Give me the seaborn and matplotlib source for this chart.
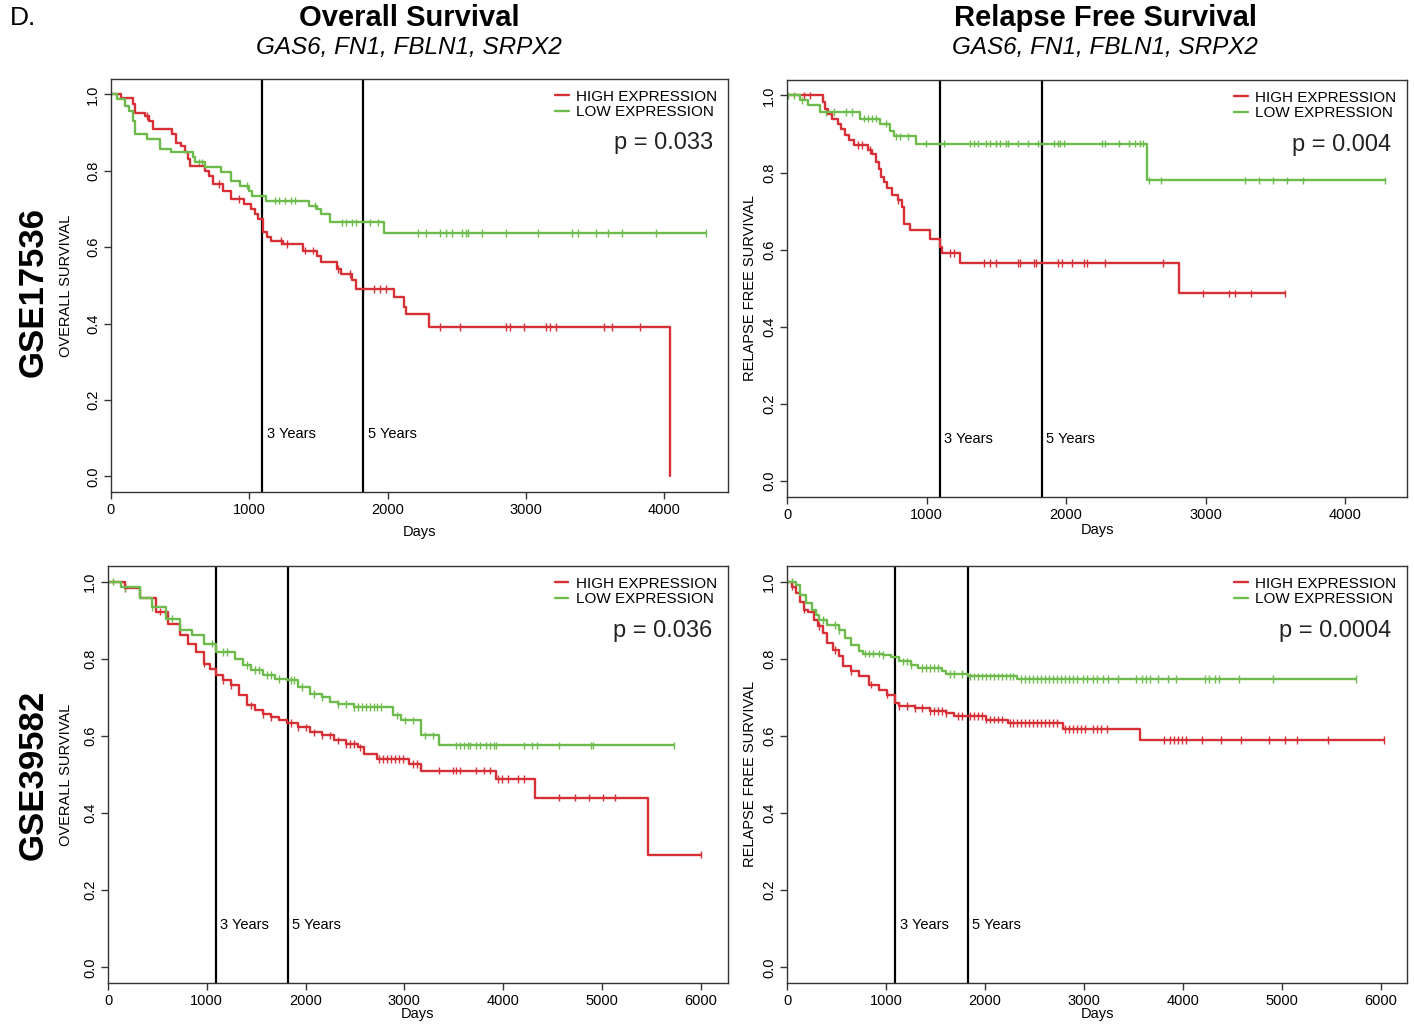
import numpy as np
import pandas as pd
import matplotlib
matplotlib.use('Agg')
import matplotlib.pyplot as plt
from matplotlib.lines import Line2D
import seaborn as sns

sns.set_style('white')
plt.rcParams['font.family'] = ['Liberation Sans', 'DejaVu Sans']
plt.rcParams['text.color'] = 'black'
plt.rcParams['axes.labelcolor'] = 'black'

# ---- GSE17536, overall survival ----
tl_high_t = [0, 72, 159, 173, 245, 274, 303, 439, 467, 505, 534, 554, 571, 678, 707, 736, 808, 866, 958, 1010,
             1039, 1062, 1102, 1125, 1160, 1240, 1385, 1486, 1515, 1630, 1659, 1745, 1774, 2043, 2120, 2135, 2302, 4040]
tl_high_s = [1.0, 0.991, 0.974, 0.952, 0.943, 0.930, 0.909, 0.896, 0.874, 0.865, 0.848, 0.830, 0.813, 0.800, 0.787,
             0.765, 0.748, 0.726, 0.713, 0.700, 0.687, 0.674, 0.639, 0.626, 0.617, 0.609, 0.591, 0.578, 0.561, 0.543,
             0.530, 0.513, 0.491, 0.470, 0.443, 0.426, 0.391, 0.0]
tl_high_c = [260, 779, 923, 1226, 1269, 1399, 1457, 1644, 1731, 1818, 1904, 1947, 1991, 2380, 2524, 2856, 2885,
             2986, 3145, 3173, 3217, 3563, 3621, 3823]
tl_low_t = [0, 43, 101, 130, 159, 173, 260, 352, 433, 592, 606, 678, 793, 866, 929, 995, 1016, 1119, 1428, 1486,
            1515, 1581, 1976, 4299]
tl_low_s = [1.0, 0.987, 0.970, 0.957, 0.930, 0.896, 0.883, 0.857, 0.848, 0.835, 0.822, 0.809, 0.796, 0.774, 0.761,
            0.748, 0.735, 0.722, 0.709, 0.700, 0.687, 0.665, 0.637, 0.637]
tl_low_c = [635, 658, 981, 1183, 1212, 1255, 1298, 1327, 1471, 1673, 1702, 1745, 1774, 1818, 1875, 1933, 2221, 2279,
            2380, 2423, 2467, 2539, 2568, 2582, 2683, 2856, 3087, 3332, 3375, 3505, 3592, 3693, 3938, 4299]

# ---- GSE17536, relapse free survival ----
tr_high_t = [0, 256, 273, 293, 322, 365, 388, 416, 445, 479, 580, 608, 637, 657, 674, 694, 714, 751, 794, 823,
             837, 880, 1023, 1095, 1109, 1238, 2813, 3571]
tr_high_s = [1.0, 0.983, 0.966, 0.953, 0.940, 0.927, 0.914, 0.897, 0.884, 0.871, 0.858, 0.849, 0.828, 0.810, 0.789,
             0.776, 0.759, 0.741, 0.728, 0.711, 0.668, 0.651, 0.629, 0.608, 0.591, 0.566, 0.487, 0.487]
tr_high_c = [122, 165, 508, 537, 594, 794, 1167, 1195, 1410, 1453, 1496, 1653, 1668, 1768, 1782, 1940, 1968, 2040,
             2126, 2154, 2283, 2698, 2985, 3171, 3214, 3328, 3571]
tr_low_t = [0, 93, 150, 236, 522, 666, 737, 766, 923, 2584, 4287]
tr_low_s = [1.0, 0.987, 0.974, 0.957, 0.940, 0.927, 0.909, 0.894, 0.875, 0.780, 0.780]
tr_low_c = [10, 52, 104, 279, 336, 422, 465, 551, 580, 608, 637, 708, 780, 809, 866, 995, 1095, 1124, 1310, 1338,
            1367, 1424, 1453, 1496, 1524, 1567, 1582, 1653, 1725, 1797, 1911, 1940, 1954, 1983, 2255, 2283, 2383,
            2455, 2498, 2527, 2555, 2598, 2684, 3285, 3385, 3486, 3586, 3700, 4287]

# ---- GSE39582, overall survival ----
bl_high_t = [0, 168, 328, 488, 608, 728, 808, 888, 968, 1028, 1096, 1168, 1248, 1328, 1408, 1488, 1568, 1648, 1728,
             1808, 1928, 2048, 2168, 2288, 2408, 2528, 2588, 2728, 3048, 3168, 3928, 4328, 5468, 6008]
bl_high_s = [1.0, 0.983, 0.957, 0.922, 0.891, 0.861, 0.839, 0.818, 0.787, 0.774, 0.757, 0.744, 0.731, 0.705, 0.679,
             0.666, 0.657, 0.648, 0.640, 0.634, 0.622, 0.609, 0.601, 0.588, 0.579, 0.570, 0.553, 0.540, 0.527, 0.510,
             0.488, 0.440, 0.292, 0.292]
bl_high_c = [168, 528, 968, 1168, 1248, 1448, 1568, 1648, 1848, 1928, 2008, 2088, 2168, 2248, 2328, 2408, 2448,
             2488, 2548, 2748, 2788, 2828, 2868, 2908, 2948, 2988, 3088, 3128, 3348, 3488, 3528, 3568, 3728, 3808,
             3868, 3948, 3988, 4048, 4148, 4208, 4568, 4728, 4868, 5008, 5128, 6008]
bl_low_t = [0, 128, 328, 448, 588, 728, 848, 968, 1096, 1288, 1368, 1448, 1568, 1688, 1808, 1928, 2048, 2168, 2248,
            2328, 2488, 2888, 2968, 3168, 3348, 5728]
bl_low_s = [1.0, 0.986, 0.957, 0.934, 0.904, 0.874, 0.861, 0.839, 0.818, 0.800, 0.783, 0.770, 0.757, 0.748, 0.744,
            0.727, 0.709, 0.700, 0.688, 0.683, 0.674, 0.653, 0.640, 0.601, 0.575, 0.575]
bl_low_c = [48, 168, 448, 648, 728, 1048, 1168, 1208, 1408, 1488, 1528, 1608, 1648, 1728, 1848, 1888, 1968, 2088,
            2168, 2328, 2408, 2488, 2528, 2568, 2608, 2648, 2688, 2728, 2768, 2928, 3008, 3088, 3208, 3288, 3528,
            3568, 3608, 3648, 3668, 3728, 3768, 3828, 3868, 3908, 3928, 4208, 4288, 4348, 4568, 4888, 4908, 5728]

# ---- GSE39582, relapse free survival ----
br_high_t = [0, 48, 88, 128, 168, 208, 268, 308, 368, 408, 468, 528, 568, 648, 728, 828, 928, 1008, 1088, 1128,
             1288, 1448, 1608, 1688, 2008, 2228, 2788, 3568, 6028]
br_high_s = [1.0, 0.987, 0.970, 0.948, 0.927, 0.922, 0.901, 0.884, 0.866, 0.841, 0.823, 0.806, 0.780, 0.767, 0.754,
             0.733, 0.720, 0.707, 0.685, 0.678, 0.672, 0.664, 0.659, 0.651, 0.642, 0.634, 0.618, 0.589, 0.589]
br_high_c = [48, 168, 328, 488, 648, 848, 1008, 1128, 1208, 1288, 1368, 1448, 1488, 1528, 1568, 1608, 1728, 1768,
             1848, 1888, 1928, 1968, 2008, 2048, 2088, 2128, 2168, 2248, 2288, 2328, 2368, 2408, 2448, 2488, 2528,
             2568, 2608, 2648, 2688, 2728, 2808, 2848, 2888, 2928, 2968, 3008, 3088, 3128, 3168, 3228, 3808, 3868,
             3908, 3948, 3988, 4028, 4188, 4388, 4588, 4868, 5028, 5148, 5468, 6028]
br_low_t = [0, 88, 128, 188, 248, 288, 328, 408, 528, 588, 648, 728, 768, 968, 1048, 1128, 1248, 1328, 1568, 1608,
            1828, 2328, 5748]
br_low_s = [1.0, 0.991, 0.966, 0.944, 0.927, 0.914, 0.901, 0.888, 0.875, 0.853, 0.836, 0.819, 0.813, 0.810, 0.804,
            0.793, 0.784, 0.776, 0.767, 0.761, 0.754, 0.747, 0.747]
br_low_c = [48, 368, 488, 528, 788, 828, 868, 928, 968, 1168, 1208, 1248, 1368, 1408, 1448, 1488, 1528, 1648, 1688,
            1768, 1848, 1888, 1928, 1968, 2008, 2048, 2088, 2128, 2168, 2208, 2248, 2288, 2368, 2408, 2448, 2488,
            2528, 2568, 2608, 2648, 2688, 2728, 2768, 2808, 2848, 2888, 2928, 2988, 3028, 3088, 3128, 3188, 3248,
            3348, 3528, 3588, 3628, 3668, 3748, 3848, 3928, 4228, 4268, 4328, 4368, 4568, 4908, 5748]

groups = ['HIGH EXPRESSION', 'LOW EXPRESSION']
colors = {'HIGH EXPRESSION': '#d62f36', 'LOW EXPRESSION': '#6cbb4c'}

panels = [
    dict(pos=[0.0785, 0.5212, 0.4364, 0.4018], high=(tl_high_t, tl_high_s, tl_high_c),
         low=(tl_low_t, tl_low_s, tl_low_c), xmax=4460, xticks=range(0, 4001, 1000),
         ylab='OVERALL SURVIVAL', p='p = 0.033', ylab_x=-0.062, xlab_y=-0.08),
    dict(pos=[0.5566, 0.5164, 0.4385, 0.4057], high=(tr_high_t, tr_high_s, tr_high_c),
         low=(tr_low_t, tr_low_s, tr_low_c), xmax=4445, xticks=range(0, 4001, 1000),
         ylab='RELAPSE FREE SURVIVAL', p='p = 0.004', ylab_x=-0.048, xlab_y=-0.063),
    dict(pos=[0.0764, 0.0431, 0.4383, 0.4057], high=(bl_high_t, bl_high_s, bl_high_c),
         low=(bl_low_t, bl_low_s, bl_low_c), xmax=6275, xticks=range(0, 6001, 1000),
         ylab='OVERALL SURVIVAL', p='p = 0.036', ylab_x=-0.056, xlab_y=-0.058),
    dict(pos=[0.5566, 0.0431, 0.4385, 0.4057], high=(br_high_t, br_high_s, br_high_c),
         low=(br_low_t, br_low_s, br_low_c), xmax=6265, xticks=range(0, 6001, 1000),
         ylab='RELAPSE FREE SURVIVAL', p='p = 0.0004', ylab_x=-0.048, xlab_y=-0.058),
]

fig = plt.figure(figsize=(14.14, 10.27), dpi=100)

for pn in panels:
    ax = fig.add_axes(pn['pos'])
    curves = []
    cens = []
    for g, (t, s, c) in zip(groups, [pn['high'], pn['low']]):
        curves.append(pd.DataFrame({'Days': t, 'Survival': s, 'group': g}))
        t_arr = np.array(t)
        s_arr = np.array(s)
        idx = np.searchsorted(t_arr, np.array(c), side='right') - 1
        cens.append(pd.DataFrame({'Days': c, 'Survival': s_arr[idx], 'group': g}))
    df = pd.concat(curves, ignore_index=True)
    dc = pd.concat(cens, ignore_index=True)

    sns.lineplot(data=df, x='Days', y='Survival', hue='group', palette=colors, estimator=None,
                 sort=False, drawstyle='steps-post', linewidth=1.7, legend=False, ax=ax)
    sns.scatterplot(data=dc, x='Days', y='Survival', hue='group', palette=colors, marker='|',
                    s=30, linewidth=1.0, legend=False, ax=ax)

    for v, lab in [(1095, '3 Years'), (1825, '5 Years')]:
        ax.axvline(v, color='black', lw=1.6, zorder=1)
        ax.annotate(lab, xy=(v, 0.11), xytext=(3, 0), textcoords='offset points',
                    ha='left', va='center', fontsize=10.5)

    ax.set_xlim(0, pn['xmax'])
    ax.set_ylim(-0.04, 1.04)
    ax.set_xticks(list(pn['xticks']))
    ax.set_yticks([0.0, 0.2, 0.4, 0.6, 0.8, 1.0])
    ax.set_yticklabels(['0.0', '0.2', '0.4', '0.6', '0.8', '1.0'], rotation=90, va='center')
    ax.tick_params(bottom=True, left=True, direction='out', length=5, width=1, colors='#333333',
                   labelcolor='black', labelsize=10.5, pad=3)
    ax.tick_params(axis='y', pad=3)
    for sp in ax.spines.values():
        sp.set_color('#333333')
        sp.set_linewidth(1.0)

    ax.set_xlabel('Days', fontsize=10.5)
    ax.set_ylabel(pn['ylab'], fontsize=10.5)
    ax.yaxis.set_label_coords(pn['ylab_x'], 0.5)
    ax.xaxis.set_label_coords(0.5, pn['xlab_y'])
    ax.xaxis.label.set_va('top')

    handles = [Line2D([0], [0], color=colors[g], lw=1.7) for g in groups]
    ax.legend(handles, groups, loc='upper right', frameon=False, fontsize=11,
              handlelength=0.9, handletextpad=0.5, labelspacing=0.1, borderaxespad=0.3)
    ax.text(0.975, 0.845, pn['p'], transform=ax.transAxes, ha='right', va='center',
            fontsize=17, color='#222222')

fig.text(0.007, 0.982, 'D.', fontsize=19, ha='left', va='center')
fig.text(0.2893, 0.982, 'Overall Survival', fontsize=21, fontweight='bold', ha='center', va='center')
fig.text(0.2893, 0.954, 'GAS6, FN1, FBLN1, SRPX2', fontsize=17.5, fontstyle='italic', ha='center', va='center')
fig.text(0.7815, 0.982, 'Relapse Free Survival', fontsize=21, fontweight='bold', ha='center', va='center')
fig.text(0.7815, 0.954, 'GAS6, FN1, FBLN1, SRPX2', fontsize=17.5, fontstyle='italic', ha='center', va='center')
fig.text(0.0235, 0.716, 'GSE17536', fontsize=25, fontweight='bold', rotation=90, ha='center', va='center')
fig.text(0.0235, 0.2454, 'GSE39582', fontsize=25, fontweight='bold', rotation=90, ha='center', va='center')

fig.savefig('out.png', dpi=100)
